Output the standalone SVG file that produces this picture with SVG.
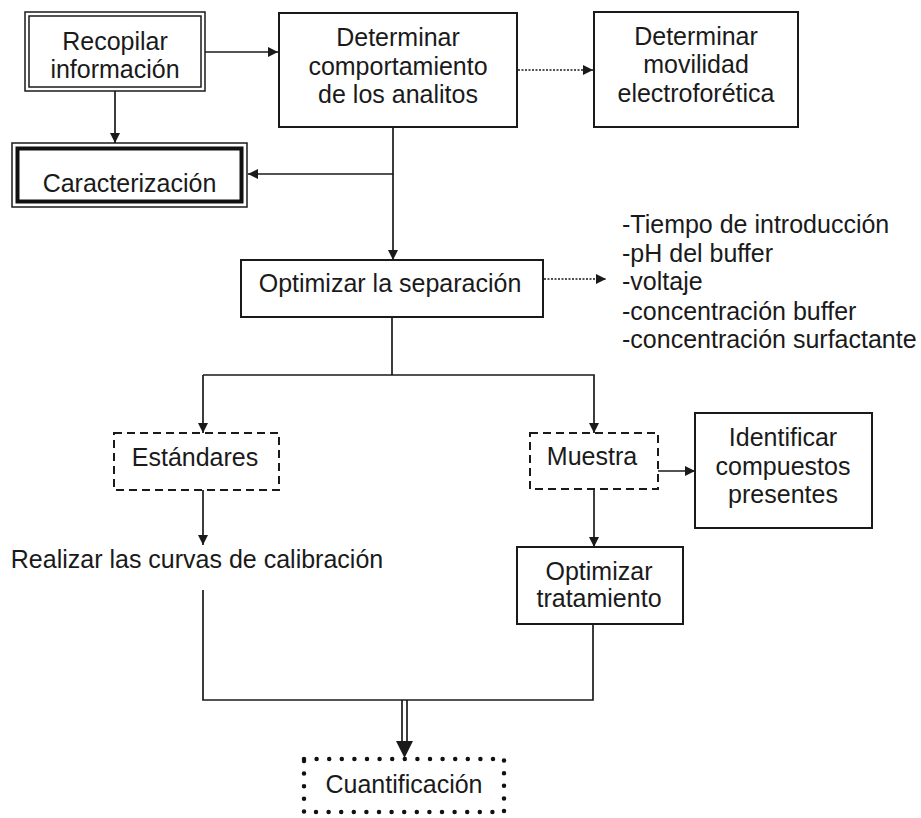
<svg xmlns="http://www.w3.org/2000/svg" width="921" height="818" viewBox="0 0 921 818">
<style>
text{font-family:"Liberation Sans",Arial,sans-serif;font-size:25px;fill:#1a1a1a;text-anchor:middle}
.box{fill:#fff;stroke:#1a1a1a;stroke-width:2}
.dash{fill:#fff;stroke:#1a1a1a;stroke-width:2;stroke-dasharray:8 5}
.ln{fill:none;stroke:#1a1a1a;stroke-width:1.7}
.dot{fill:none;stroke:#1a1a1a;stroke-width:1.6;stroke-dasharray:2 1.5}
.lst{text-anchor:start}
</style>
<defs>
<marker id="ah" viewBox="0 0 10 10" refX="10" refY="5" markerWidth="12" markerHeight="10" markerUnits="userSpaceOnUse" orient="auto">
<path d="M0,0 L10,5 L0,10 z" fill="#1a1a1a"/>
</marker>
</defs>
<rect width="921" height="818" fill="#fff"/>
<g id="connectors">
<line class="ln" x1="205" y1="52" x2="278" y2="52" marker-end="url(#ah)"/>
<line class="ln" x1="115" y1="91" x2="115" y2="143" marker-end="url(#ah)"/>
<line class="dot" x1="518" y1="70" x2="593" y2="70" marker-end="url(#ah)"/>
<polyline class="ln" points="393,127 393,174 248,174" marker-end="url(#ah)"/>
<line class="ln" x1="393" y1="174" x2="393" y2="260" marker-end="url(#ah)"/>
<line class="dot" x1="544" y1="279" x2="606" y2="279" marker-end="url(#ah)"/>
<line class="ln" x1="392" y1="318" x2="392" y2="375"/>
<polyline class="ln" points="203,375 594,375 594,433" marker-end="url(#ah)"/>
<line class="ln" x1="203" y1="375" x2="203" y2="433" marker-end="url(#ah)"/>
<line class="ln" x1="203" y1="490" x2="203" y2="545" marker-end="url(#ah)"/>
<line class="ln" x1="658" y1="471" x2="695" y2="471" marker-end="url(#ah)"/>
<line class="ln" x1="594" y1="489" x2="594" y2="547" marker-end="url(#ah)"/>
<polyline class="ln" points="203,590 203,700 593,700 593,624"/>
<line class="ln" x1="402" y1="700" x2="402" y2="744"/>
<line class="ln" x1="407" y1="700" x2="407" y2="744"/>
<path d="M396,741 L413,741 L404.5,758 z" fill="#1a1a1a"/>
</g>
<g id="recopilar">
<rect x="25" y="12" width="180" height="79" fill="#fff" stroke="#1a1a1a" stroke-width="1.5"/>
<rect x="29" y="16" width="172" height="71" fill="none" stroke="#1a1a1a" stroke-width="1.5"/>
<text x="115" y="50">Recopilar</text>
<text x="115" y="78">información</text>
</g>
<g id="caracterizacion">
<rect x="12" y="143" width="235" height="64" fill="#fff" stroke="#1a1a1a" stroke-width="1.5"/>
<rect x="17.5" y="148.5" width="224" height="53" fill="none" stroke="#111" stroke-width="4"/>
<text x="129.5" y="192">Caracterización</text>
</g>
<g id="determinar">
<rect class="box" x="279" y="13" width="238" height="114"/>
<text x="398" y="46">Determinar</text>
<text x="398" y="75">comportamiento</text>
<text x="398" y="103">de los analitos</text>
</g>
<g id="movilidad">
<rect class="box" x="594" y="12" width="204" height="115"/>
<text x="696" y="45">Determinar</text>
<text x="696" y="73">movilidad</text>
<text x="696" y="102">electroforética</text>
</g>
<g id="optimizar-separacion">
<rect class="box" x="241" y="260" width="302" height="57"/>
<text x="390" y="292">Optimizar la separación</text>
</g>
<g id="parametros">
<text class="lst" x="622" y="233">-Tiempo de introducción</text>
<text class="lst" x="622" y="262">-pH del buffer</text>
<text class="lst" x="622" y="290">-voltaje</text>
<text class="lst" x="622" y="320">-concentración buffer</text>
<text class="lst" x="622" y="348">-concentración surfactante</text>
</g>
<g id="estandares">
<rect class="dash" x="114" y="433" width="165" height="57"/>
<text x="195" y="466">Estándares</text>
</g>
<g id="curvas">
<text x="197" y="568">Realizar las curvas de calibración</text>
</g>
<g id="muestra">
<rect class="dash" x="530" y="433" width="128" height="56"/>
<text x="592" y="465">Muestra</text>
</g>
<g id="identificar">
<rect class="box" x="695" y="413" width="177" height="115"/>
<text x="783" y="446">Identificar</text>
<text x="783" y="475">compuestos</text>
<text x="783" y="503">presentes</text>
</g>
<g id="optimizar-tratamiento">
<rect class="box" x="517" y="547" width="166" height="77"/>
<text x="599" y="580">Optimizar</text>
<text x="599" y="607">tratamiento</text>
</g>
<g id="cuantificacion">
<rect x="304" y="759" width="200" height="53" fill="#fff" stroke="#111" stroke-width="4.5" stroke-linecap="round" stroke-dasharray="0 12.6"/>
<text x="404" y="793">Cuantificación</text>
</g>
</svg>
